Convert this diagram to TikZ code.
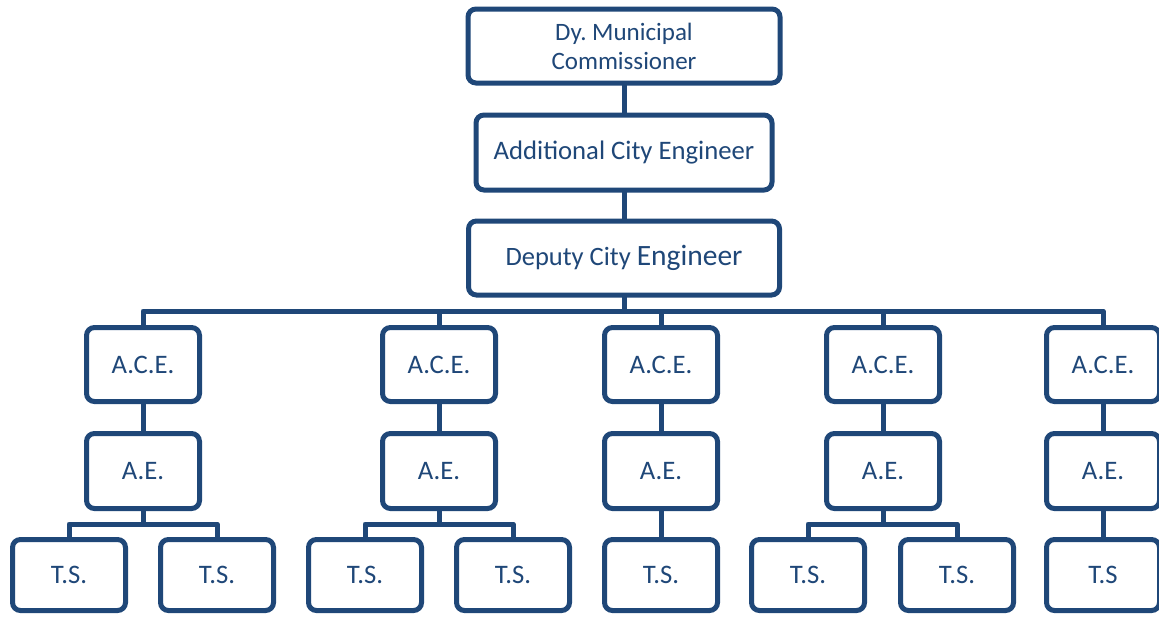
\documentclass[tikz,border=0pt]{standalone}
\usepackage{fontspec}
\setmainfont{Carlito}
\usepackage{xcolor}
\usepackage{tikz}
\definecolor{orgblue}{RGB}{31,71,120}
\frenchspacing

\begin{document}
\begin{tikzpicture}[x=1pt,y=-1pt,
    box/.style={draw=orgblue, line width=5pt, rounded corners=8pt, fill=white,
        text=orgblue, align=center, inner sep=0pt, outer sep=0pt,
        font=\fontsize{26.7}{31}\selectfont},
    post/.style={box, minimum width=113pt, minimum height=74pt},
    link/.style={draw=orgblue, line width=5pt, line join=round}]
\useasboundingbox (0,0) rectangle (1159,616);
% head of the chart
\node[box, minimum width=312pt, minimum height=74pt, font=\fontsize{25}{29}\selectfont]
    (dmc) at (624,46) {Dy. Municipal\\Commissioner};
\node[box, minimum width=296pt, minimum height=75pt] (addce) at (624,152.5) {Additional City Engineer};
\node[box, minimum width=311pt, minimum height=74pt, font=\fontsize{26.5}{31}\selectfont] (dyce) at (624,258)
    {Deputy City {\fontsize{29.5}{31}\selectfont Engineer}};
\draw[link] (dmc) -- (addce);
\draw[link] (addce) -- (dyce);
% one column per A.C.E.
\foreach \n/\x in {1/143,2/439,3/661,4/883,5/1103} {
    \node[post] (ace\n) at (\x,364.5) {A.C.E.};
    \node[post, minimum height=75pt] (ae\n) at (\x,471) {A.E.};
    \draw[link] (ace\n) -- (ae\n);
}
\coordinate (bus) at (624,311);
\draw[link] (ace1) |- (bus) -| (ace5);
\draw[link] (dyce) -- (bus);
\foreach \n in {2,3,4}
    \draw[link] (ace\n) -- (ace\n |- bus);
% T.S. pairs
\foreach \n/\x/\xa/\xb in {1/143/69/217,2/439/365/513,4/883/808/957} {
    \node[post, minimum height=71pt] (tsa\n) at (\xa,575) {T.S.};
    \node[post, minimum height=71pt] (tsb\n) at (\xb,575) {T.S.};
    \coordinate (tsbus\n) at (\x,524);
    \draw[link] (ae\n) -- (tsbus\n);
    \draw[link] (tsa\n) |- (tsbus\n) -| (tsb\n);
}
\node[post, minimum height=71pt] (ts3) at (661,575) {T.S.};
\node[post, minimum height=71pt] (ts5) at (1103,575) {T.S};
\draw[link] (ae3) -- (ts3);
\draw[link] (ae5) -- (ts5);
\end{tikzpicture}
\end{document}
